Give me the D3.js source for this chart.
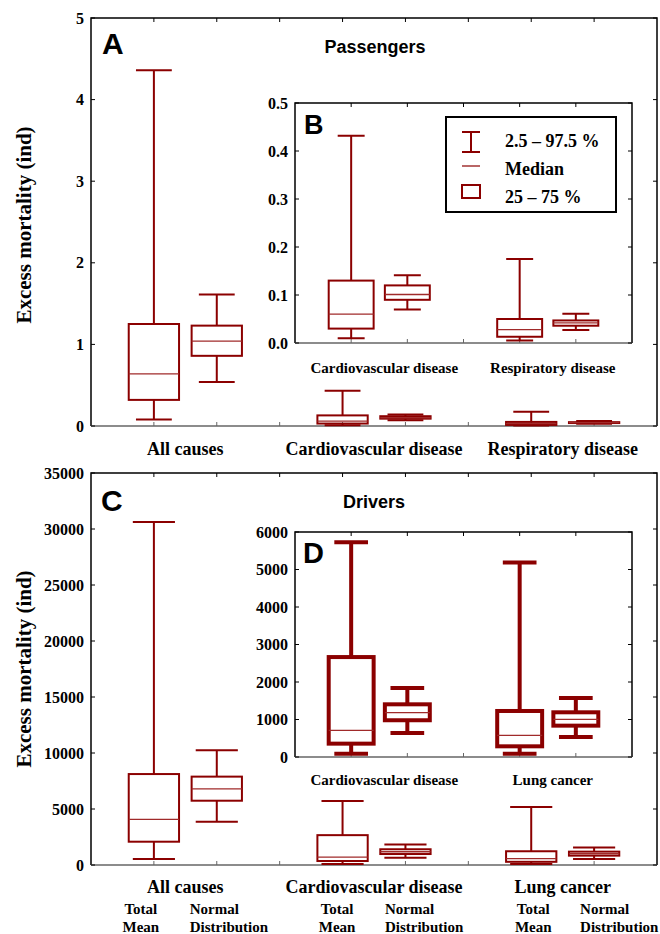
<!DOCTYPE html>
<html>
<head>
<meta charset="utf-8">
<script src="https://cdn.jsdelivr.net/npm/d3@7"></script>
<style>
    body { margin: 0; background: #fff; }
    svg { display: block; }
    .serif { font-family: "Liberation Serif", "Times New Roman", serif; font-weight: bold; }
    .sans { font-family: "Liberation Sans", Arial, sans-serif; font-weight: bold; }
</style>
</head>
<body>
<svg id="chart" width="660" height="934"></svg>
<script>
const passengerGroups = ["All causes", "Cardiovascular disease", "Respiratory disease"];
const driverGroups = ["All causes", "Cardiovascular disease", "Lung cancer"];
const methodLabels = [["Total", "Mean"], ["Normal", "Distribution"]];
const legendLabels = ["2.5 – 97.5 %", "Median", "25 – 75 %"];

// each row: [2.5 %, 25 %, median, 75 %, 97.5 %]
const passengersTotalMean = [
    [0.08, 0.32, 0.64, 1.25, 4.36],
    [0.010, 0.030, 0.060, 0.130, 0.432],
    [0.005, 0.013, 0.028, 0.050, 0.175]
];
const passengersNormal = [
    [0.54, 0.86, 1.04, 1.23, 1.61],
    [0.070, 0.090, 0.101, 0.120, 0.141],
    [0.027, 0.036, 0.042, 0.047, 0.061]
];
const driversTotalMean = [
    [540, 2080, 4080, 8120, 30620],
    [90, 356, 710, 2665, 5725],
    [90, 285, 578, 1227, 5185]
];
const driversNormal = [
    [3870, 5740, 6790, 7890, 10240],
    [640, 980, 1182, 1405, 1840],
    [533, 836, 1004, 1192, 1573]
];

const passengerTicks = [0, 1, 2, 3, 4, 5];
const passengerInsetTicks = [0, 0.1, 0.2, 0.3, 0.4, 0.5];
const driverTicks = [0, 5000, 10000, 15000, 20000, 25000, 30000, 35000];
const driverInsetTicks = [0, 1000, 2000, 3000, 4000, 5000, 6000];

const boxColor = "#8b0000";
const svg = d3.select("#chart");

// panel A: passengers
renderPanel({
    x0: 91, x1: 657, y0: 18, y1: 426,
    ticks: passengerTicks, format: d3.format("d"),
    groups: passengerGroups, totalMean: passengersTotalMean, normal: passengersNormal,
    slots: 9, capFrac: 0.57, strokeWidth: 2,
    labelSize: 18, labelY: 455, labelDx: 0, inset: false
});
// panel B: passengers, specific causes
renderPanel({
    x0: 295, x1: 632, y0: 103, y1: 343,
    ticks: passengerInsetTicks, format: d3.format(".1f"),
    groups: passengerGroups.slice(1), totalMean: passengersTotalMean.slice(1), normal: passengersNormal.slice(1),
    slots: 6, capFrac: 0.48, strokeWidth: 2,
    labelSize: 15, labelY: 373, labelDx: 5, inset: true
});
// panel C: drivers
renderPanel({
    x0: 91, x1: 657, y0: 473, y1: 865,
    ticks: driverTicks, format: d3.format("d"),
    groups: driverGroups, totalMean: driversTotalMean, normal: driversNormal,
    slots: 9, capFrac: 0.67, strokeWidth: 2,
    labelSize: 18, labelY: 893, labelDx: 0, inset: false
});
// panel D: drivers, specific causes
renderPanel({
    x0: 295, x1: 632, y0: 532, y1: 757,
    ticks: driverInsetTicks, format: d3.format("d"),
    groups: driverGroups.slice(1), totalMean: driversTotalMean.slice(1), normal: driversNormal.slice(1),
    slots: 6, capFrac: 0.6, strokeWidth: 4,
    labelSize: 15, labelY: 785, labelDx: 5, inset: true
});

// panel letters and titles
const letters = [["A", 102, 54, 30], ["B", 304, 134, 27], ["C", 101, 511, 30], ["D", 303, 563, 29]];
letters.forEach(function (l) {
    svg.append("text").attr("class", "sans")
        .attr("x", l[1]).attr("y", l[2])
        .style("font-size", `${l[3]}px`)
        .text(l[0]);
});
svg.append("text").attr("class", "sans").attr("x", 375).attr("y", 53)
    .attr("text-anchor", "middle").style("font-size", "18px").text("Passengers");
svg.append("text").attr("class", "sans").attr("x", 374).attr("y", 508)
    .attr("text-anchor", "middle").style("font-size", "18px").text("Drivers");

// y titles
[225, 669].forEach(function (cy) {
    svg.append("text").attr("class", "serif")
        .attr("transform", `translate(31, ${cy}) rotate(-90)`)
        .attr("text-anchor", "middle")
        .style("font-size", "21px")
        .text("Excess mortality (ind)");
});

// method labels under panel C
const xMain = d3.scaleLinear().domain([0, 9]).range([91, 657]);
driverGroups.forEach(function (g, gi) {
    const tmX = xMain(gi * 3 + 1) - 13 + gi * 7.5;
    const ndX = xMain(gi * 3 + 2) - 27 + gi * 6.5;
    methodLabels[0].forEach(function (t, li) {
        svg.append("text").attr("class", "serif").attr("x", tmX).attr("y", 914 + li * 18)
            .attr("text-anchor", "middle").style("font-size", "15px").text(t);
    });
    methodLabels[1].forEach(function (t, li) {
        svg.append("text").attr("class", "serif").attr("x", ndX).attr("y", 914 + li * 18)
            .style("font-size", "15px").text(t);
    });
});

// legend inside panel B
const legend = svg.append("g");
legend.append("rect").attr("x", 446).attr("y", 117).attr("width", 170).attr("height", 95)
    .attr("fill", "#fff").attr("stroke", "#000").attr("stroke-width", 2);
const lx = 471;
legend.append("path")
    .attr("d", `M${lx - 9},132H${lx + 9}M${lx},132V152M${lx - 9},152H${lx + 9}`)
    .attr("stroke", boxColor).attr("stroke-width", 2).attr("fill", "none");
legend.append("line").attr("x1", lx - 9).attr("x2", lx + 9).attr("y1", 166).attr("y2", 166)
    .attr("stroke", boxColor).attr("stroke-width", 1.2);
legend.append("rect").attr("x", lx - 9).attr("y", 185).attr("width", 18).attr("height", 13)
    .attr("fill", "none").attr("stroke", boxColor).attr("stroke-width", 2);
legendLabels.forEach(function (t, i) {
    legend.append("text").attr("class", "serif").attr("x", 505).attr("y", 147 + i * 28)
        .style("font-size", "18px").text(t);
});

function renderPanel(cfg) {
    const g = svg.append("g");
    const x = d3.scaleLinear().domain([0, cfg.slots]).range([cfg.x0, cfg.x1]);
    const y = d3.scaleLinear().domain([0, cfg.ticks[cfg.ticks.length - 1]]).range([cfg.y1, cfg.y0]);
    const slotW = x(1) - x(0);
    const boxW = slotW * 0.8;
    const capW = slotW * cfg.capFrac;
    const tickLen = 4;

    if (cfg.inset) {
        g.append("rect").attr("x", cfg.x0).attr("y", cfg.y0)
            .attr("width", cfg.x1 - cfg.x0).attr("height", cfg.y1 - cfg.y0).attr("fill", "#fff");
    }

    // frame
    g.append("path")
        .attr("d", `M${cfg.x0},${cfg.y1}V${cfg.y0}H${cfg.x1}V${cfg.y1}`)
        .attr("fill", "none").attr("stroke", "#000").attr("stroke-width", 1.5);
    g.append("line").attr("x1", cfg.x0).attr("x2", cfg.x1).attr("y1", cfg.y1).attr("y2", cfg.y1)
        .attr("stroke", "#666").attr("stroke-width", 1.5);

    // y ticks on both sides, pointing inward
    cfg.ticks.forEach(function (t) {
        g.append("line").attr("x1", cfg.x0).attr("x2", cfg.x0 + tickLen)
            .attr("y1", y(t)).attr("y2", y(t)).attr("stroke", "#000");
        g.append("line").attr("x1", cfg.x1 - tickLen).attr("x2", cfg.x1)
            .attr("y1", y(t)).attr("y2", y(t)).attr("stroke", "#000");
        g.append("text").attr("class", "serif")
            .attr("x", cfg.x0 - 7).attr("y", y(t)).attr("dy", "0.35em")
            .attr("text-anchor", "end").style("font-size", "16px")
            .text(cfg.format(t));
    });

    // x ticks on top and bottom
    d3.range(1, cfg.slots).forEach(function (s) {
        g.append("line").attr("x1", x(s)).attr("x2", x(s))
            .attr("y1", cfg.y0).attr("y2", cfg.y0 + tickLen).attr("stroke", "#000");
        g.append("line").attr("x1", x(s)).attr("x2", x(s))
            .attr("y1", cfg.y1 - tickLen).attr("y2", cfg.y1).attr("stroke", "#666");
    });

    cfg.groups.forEach(function (name, gi) {
        drawBox(g, x(gi * 3 + 1), y, cfg.totalMean[gi], boxW, capW, cfg.strokeWidth);
        drawBox(g, x(gi * 3 + 2), y, cfg.normal[gi], boxW, capW, cfg.strokeWidth);
        g.append("text").attr("class", "serif")
            .attr("x", x(gi * 3 + 1.5) + cfg.labelDx).attr("y", cfg.labelY)
            .attr("text-anchor", "middle").style("font-size", `${cfg.labelSize}px`)
            .text(name);
    });
}

function drawBox(g, cx, y, s, boxW, capW, sw) {
    const b = g.append("g").attr("fill", "none").attr("stroke", boxColor);
    // whiskers
    b.append("path")
        .attr("d", `M${cx},${y(s[0])}V${y(s[1])}M${cx},${y(s[3])}V${y(s[4])}` +
            `M${cx - capW / 2},${y(s[0])}H${cx + capW / 2}M${cx - capW / 2},${y(s[4])}H${cx + capW / 2}`)
        .attr("stroke-width", sw);
    // interquartile box
    b.append("rect").attr("x", cx - boxW / 2).attr("y", y(s[3]))
        .attr("width", boxW).attr("height", y(s[1]) - y(s[3]))
        .attr("stroke-width", sw);
    // median
    b.append("line").attr("x1", cx - boxW / 2).attr("x2", cx + boxW / 2)
        .attr("y1", y(s[2])).attr("y2", y(s[2]))
        .attr("stroke-width", 1.3).attr("stroke", "#a02a2a");
}
</script>
</body>
</html>
